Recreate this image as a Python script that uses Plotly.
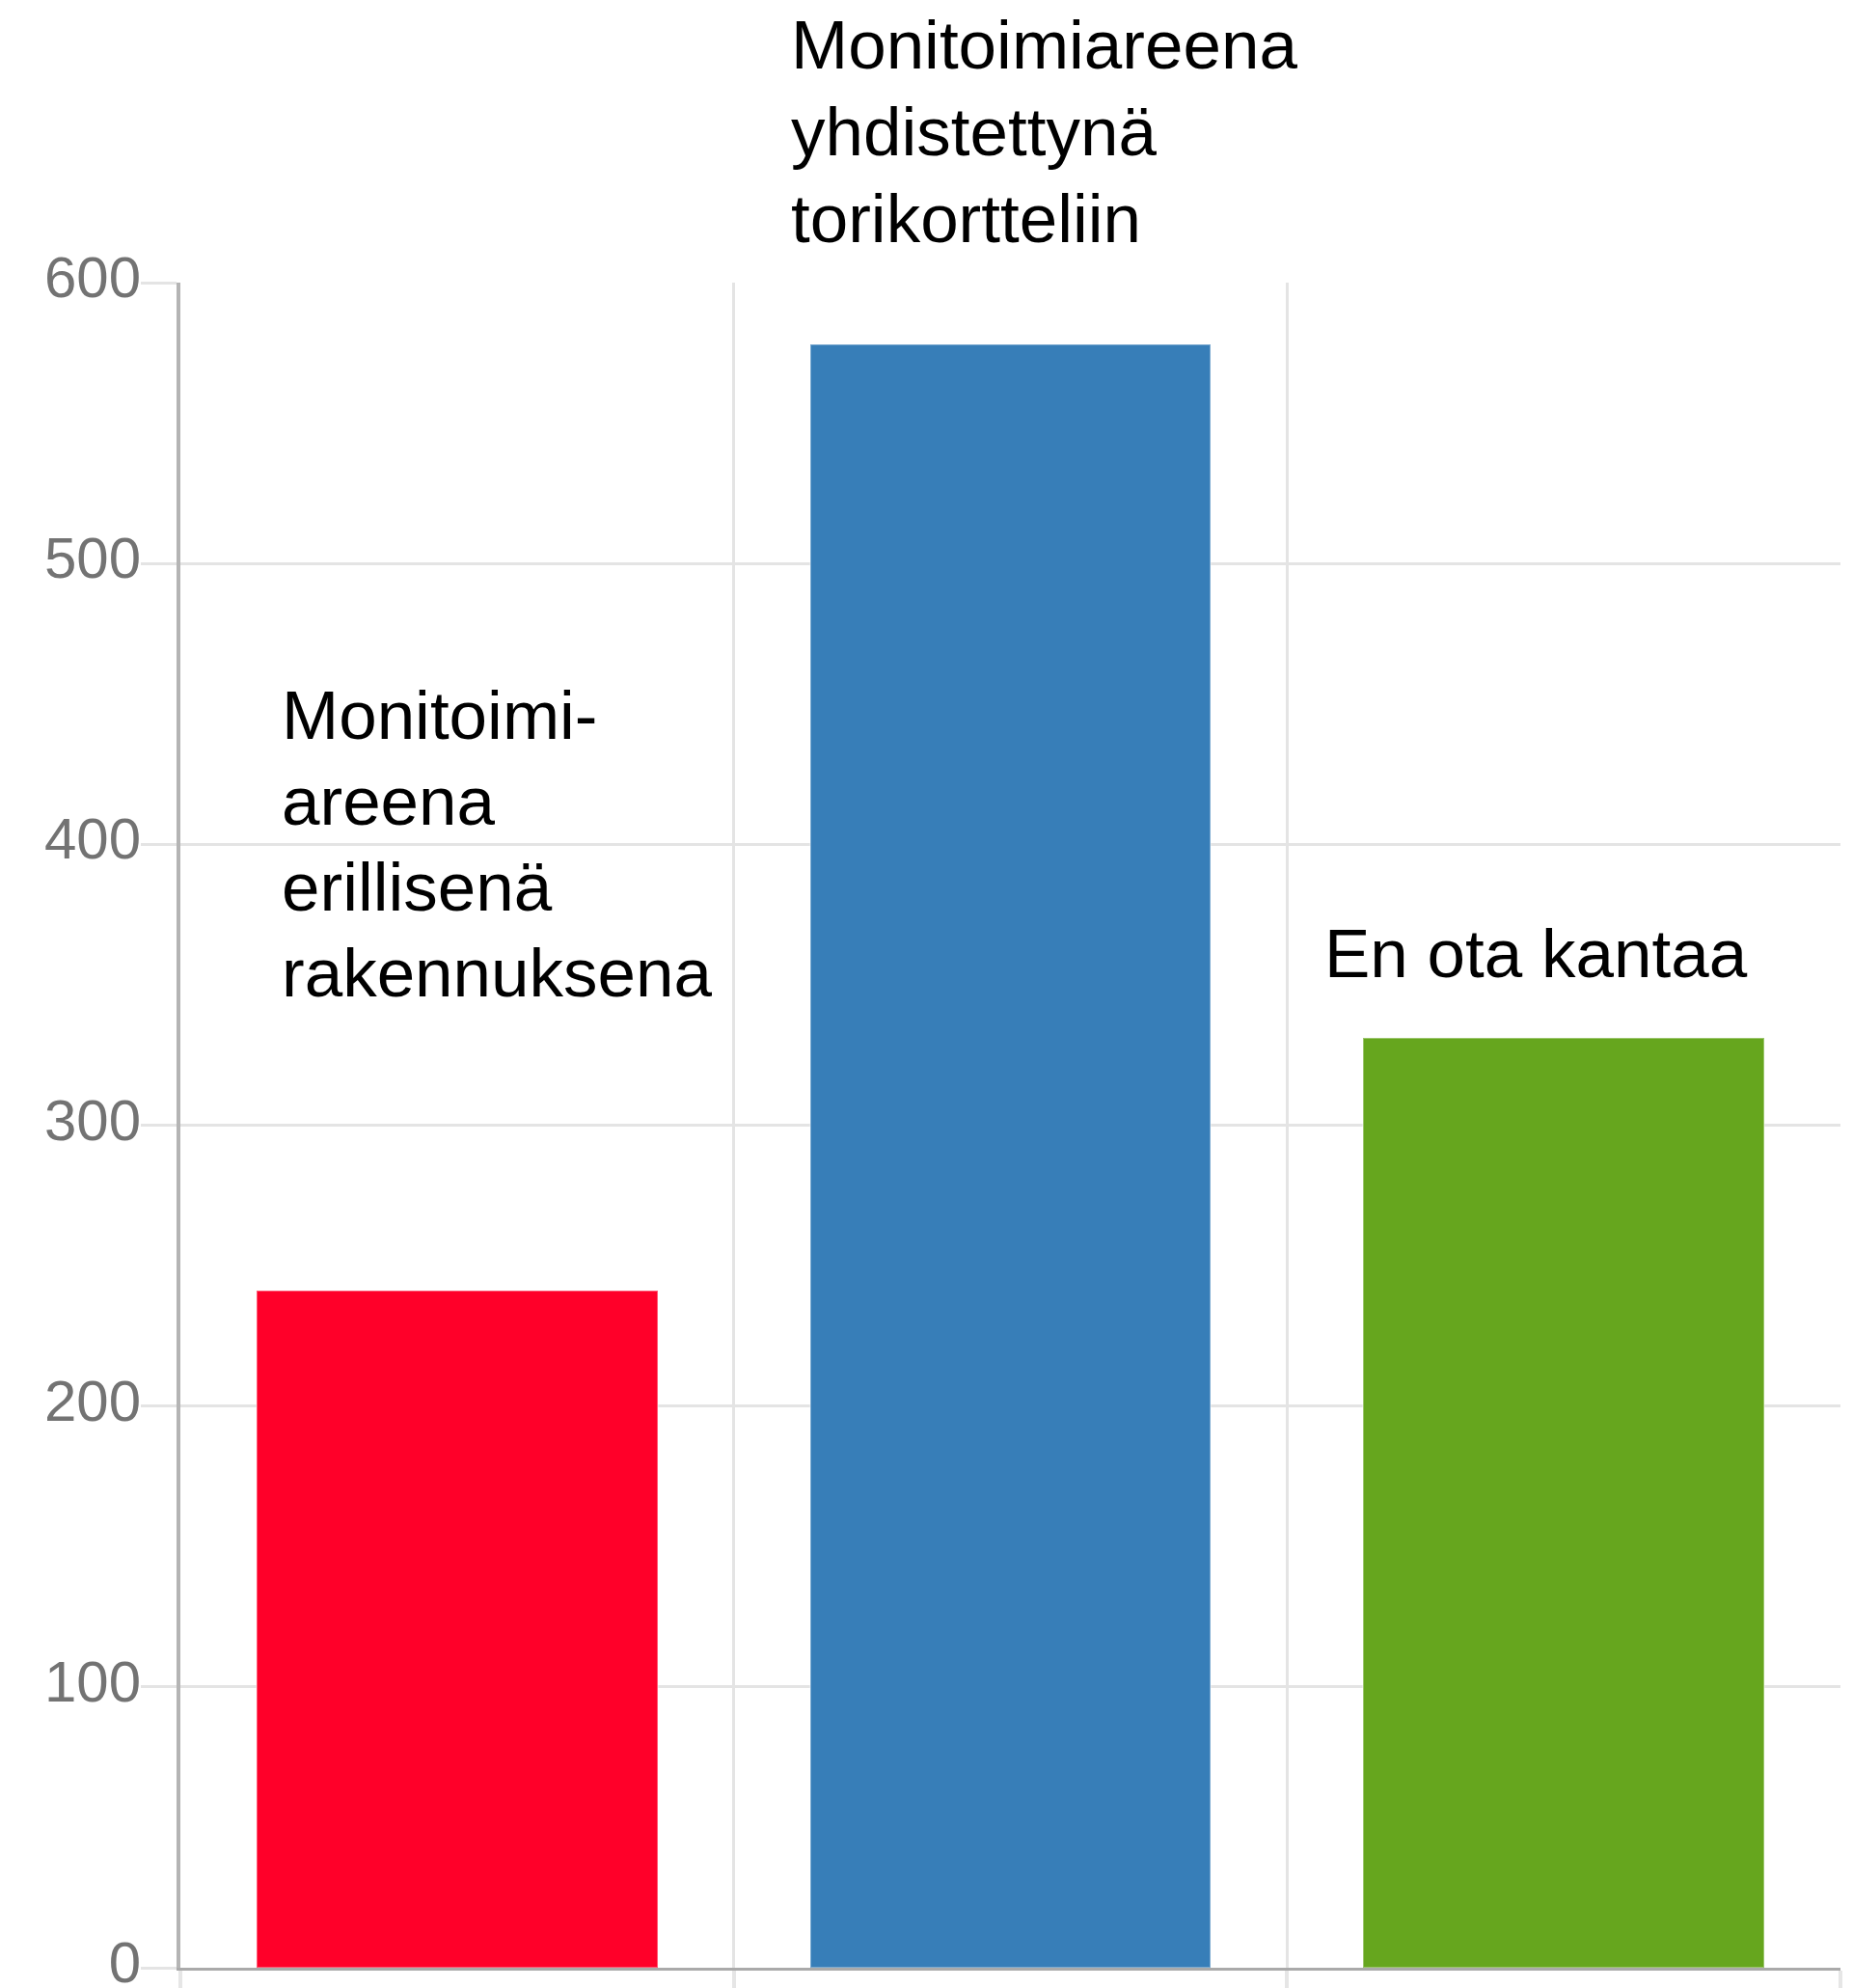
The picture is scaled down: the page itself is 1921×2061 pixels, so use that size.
import plotly.graph_objects as go

# ---- data ----
categories = [
    "Monitoimi-areena erillisenä rakennuksena",
    "Monitoimiareena yhdistettynä torikortteliin",
    "En ota kantaa",
]
label_lines = [
    ["Monitoimi-", "areena", "erillisenä", "rakennuksena"],
    ["Monitoimiareena", "yhdistettynä", "torikortteliin"],
    ["En ota kantaa"],
]
values = [241, 578, 331]
bar_colors = ["#ff0029", "#377eb8", "#66a61e"]
y_ticks = [0, 100, 200, 300, 400, 500, 600]

# ---- layout geometry (pixels) ----
W, H = 1921, 2061
L, R, T, B = 187, 13, 293, 21
pw, ph = W - L - R, H - T - B

def px_x(px):
    return (px - L) / pw

def px_y(py):
    return (H - B - py) / ph

fig = go.Figure()
fig.add_trace(go.Bar(
    x=list(range(len(categories))),
    y=values,
    width=0.725,
    marker=dict(color=bar_colors, line=dict(color="rgba(255,255,255,0.35)", width=2)),
    hovertext=categories,
    showlegend=False,
))

# label positions: (left px, first baseline px, line spacing px)
FS = 71
label_pos = [(290, 765, 89), (818, 70, 90), (1371, 1012, 90)]
for lines, (lx, base0, step) in zip(label_lines, label_pos):
    for i, line in enumerate(lines):
        top = base0 + i * step - 65
        fig.add_annotation(
            text=line, xref="paper", yref="paper",
            x=px_x(lx), y=px_y(top), xanchor="left", yanchor="top",
            align="left", showarrow=False,
            font=dict(family="Liberation Sans, Arial, sans-serif", size=FS, color="#000000"),
        )

fig.update_layout(
    width=W, height=H,
    margin=dict(l=L, r=R, t=T, b=B, pad=0, autoexpand=False),
    paper_bgcolor="white", plot_bgcolor="white",
    bargap=0,
    xaxis=dict(
        range=[-0.5, 2.5],
        tickvals=[-0.5, 0.5, 1.5, 2.5],
        showticklabels=False,
        ticks="outside", ticklen=20, tickwidth=4, tickcolor="#e6e6e6",
        showgrid=True, gridcolor="#e4e4e4", gridwidth=3,
        showline=True, linecolor="#aaaaaa", linewidth=3,
        zeroline=False, fixedrange=True, automargin=False,
    ),
    yaxis=dict(
        range=[0, 600],
        tickvals=y_ticks,
        ticktext=[str(v) for v in y_ticks],
        ticks="outside", ticklen=37, tickwidth=3, tickcolor="#e4e4e4",
        showgrid=True, gridcolor="#e4e4e4", gridwidth=3,
        showline=True, linecolor="#b4b4b4", linewidth=4,
        zeroline=False,
        tickfont=dict(family="Liberation Sans, Arial, sans-serif", size=60, color="#737373"),
        ticklabeloverflow="allow",
        ticklabelstandoff=-12,
        ticklabelshift=-6,
        fixedrange=True, automargin=False,
    ),
)

fig.write_html("out.html", config={"displayModeBar": False},
               post_script="document.body.style.margin='0';")
